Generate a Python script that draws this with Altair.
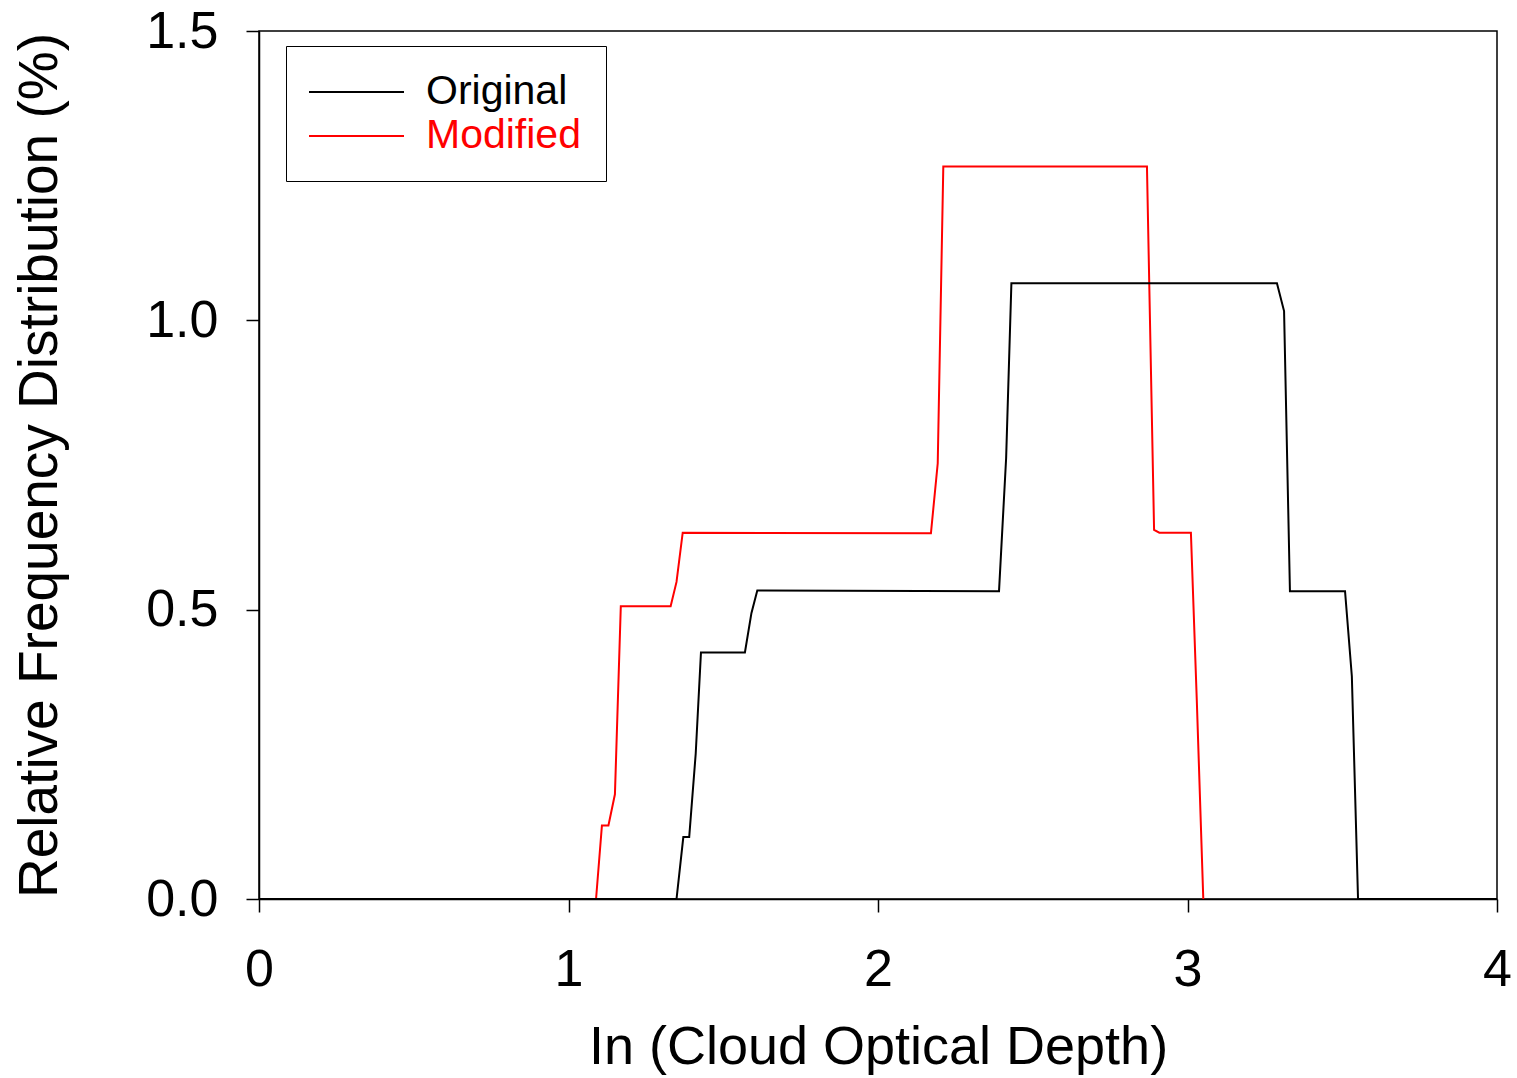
import altair as alt
import pandas as pd

series_names = ["Original", "Modified"]
series_colors = ["#000000", "#ff0000"]

orig_x = [0.0, 1.349, 1.371, 1.390, 1.411, 1.428, 1.570, 1.591, 1.610, 2.391, 2.414, 2.431,
          3.289, 3.312, 3.331, 3.509, 3.531, 3.551, 4.0]
orig_y = [0.0, 0.0, 0.107, 0.107, 0.251, 0.426, 0.426, 0.494, 0.533, 0.532, 0.762, 1.064,
          1.064, 1.016, 0.532, 0.532, 0.385, 0.0, 0.0]

mod_x = [1.089, 1.108, 1.129, 1.150, 1.169, 1.330, 1.349, 1.369, 2.171, 2.193, 2.211,
         2.869, 2.892, 2.909, 3.011, 3.030, 3.051]
mod_y = [0.0, 0.127, 0.127, 0.181, 0.506, 0.506, 0.548, 0.633, 0.632, 0.753, 1.266,
         1.266, 0.638, 0.633, 0.633, 0.344, 0.0]

x_ticks = [0, 1, 2, 3, 4]
y_ticks = [0.0, 0.5, 1.0, 1.5]

rows = []
for i, (x, y) in enumerate(zip(mod_x, mod_y)):
    rows.append({"series": "Modified", "x": x, "y": y, "ord": i})
for i, (x, y) in enumerate(zip(orig_x, orig_y)):
    rows.append({"series": "Original", "x": x, "y": y, "ord": i})
df = pd.DataFrame(rows)

FONT = "Liberation Sans"

x_enc = alt.X("x:Q", scale=alt.Scale(domain=[0, 4], nice=False, zero=False),
              axis=alt.Axis(title="In (Cloud Optical Depth)", values=x_ticks, format="d",
                            grid=False, tickSize=13, tickWidth=1.5, tickColor="black",
                            domainColor="black", domainWidth=1.5, labelFlush=False,
                            labelFontSize=52, labelPadding=32, labelColor="black",
                            titleFontSize=54, titleFontWeight="normal", titleColor="black",
                            titlePadding=25, labelFont=FONT, titleFont=FONT))
y_enc = alt.Y("y:Q", scale=alt.Scale(domain=[0, 1.5], nice=False),
              axis=alt.Axis(title="Relative Frequency Distribution (%)", values=y_ticks, format=".1f",
                            grid=False, tickSize=13, tickWidth=1.5, tickColor="black",
                            domainColor="black", domainWidth=1.5, labelFlush=False,
                            labelFontSize=52, labelPadding=28, labelColor="black",
                            titleFontSize=55, titleFontWeight="normal", titleColor="black",
                            titlePadding=77, labelFont=FONT, titleFont=FONT))
legend = alt.Legend(title=None, orient="none", legendX=27, legendY=15,
                    symbolType="M-1.15,0H3.6", symbolSize=1600, symbolStrokeWidth=2,
                    labelFontSize=41, labelFont=FONT, labelOffset=73,
                    padding=25, rowPadding=3, strokeColor="black",
                    fillColor="white",
                    labelColor={"expr": "datum.label === 'Modified' ? '#ff0000' : '#000000'"})
c_enc = alt.Color("series:N", scale=alt.Scale(domain=series_names, range=series_colors),
                  legend=legend)

base = alt.Chart(df).mark_line(strokeWidth=2, strokeJoin="miter").encode(
    x=x_enc, y=y_enc, color=c_enc, order="ord:Q")

red_layer = base.transform_filter(alt.datum.series == "Modified")
black_layer = base.transform_filter(alt.datum.series == "Original")

chart = alt.layer(red_layer, black_layer).properties(
    width=1238, height=868,
    autosize=alt.AutoSizeParams(type="none"),
    padding={"left": 259, "top": 31, "right": 20, "bottom": 179},
    background="white",
).configure_view(stroke="black", strokeWidth=1.5)

chart.save("out.html", embed_options={"renderer": "svg", "actions": False})
